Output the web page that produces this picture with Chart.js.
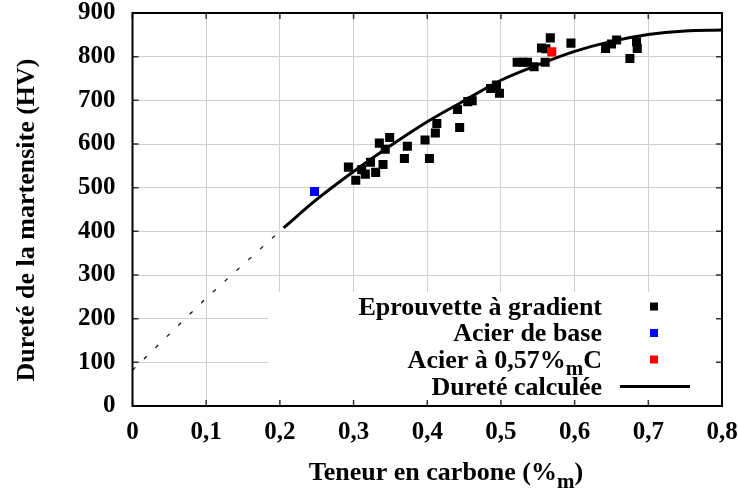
<!DOCTYPE html>
<html>
<head>
<meta charset="utf-8">
<script src="https://cdn.jsdelivr.net/npm/chart.js@4/dist/chart.umd.min.js"></script>
<style>
  html, body { margin: 0; padding: 0; background: #fff; }
  #wrap { width: 738px; height: 491px; }
</style>
</head>
<body>
<div id="wrap"><canvas id="chart" width="738" height="491"></canvas></div>
<script>
// --- data ---
const gradC  = [0.293,0.303,0.311,0.316,0.323,0.330,0.340,0.335,0.349,0.343,0.373,0.369,0.397,0.403,0.411,0.413,
                0.444,0.441,0.455,0.461,0.486,0.494,0.498,0.522,0.530,0.536,0.545,0.560,0.555,0.561,0.567,0.595,
                0.642,0.650,0.657,0.675,0.684,0.685];
const gradHV = [547,517,541,531,558,535,553,602,615,588,595,567,609,567,625,647,
                638,679,697,699,727,735,716,787,787,787,777,787,820,818,843,831,
                819,829,838,796,834,819];
const baseC  = [0.247];
const baseHV = [491];
const c57C   = [0.569];
const c57HV  = [811];
const fitC   = [0.205,0.25,0.3,0.35,0.4,0.45,0.5,0.55,0.6,0.65,0.7,0.75,0.8];
const fitHV  = [408,473,537,596,651,699,746,781,812,835,851,859,861];
const extC   = [0,0.1,0.205];
const extHV  = [82,247,408];

const xTickLabels = ['0','0,1','0,2','0,3','0,4','0,5','0,6','0,7','0,8'];
const yTickLabels = ['0','100','200','300','400','500','600','700','800','900'];
const seriesNames = ['Eprouvette à gradient','Acier de base','Acier à 0,57%_mC','Dureté calculée'];
const xTitle = 'Teneur en carbone (%_m)';
const yTitle = 'Dureté de la martensite (HV)';

const pts = (xs, ys) => xs.map((x,i)=>({x, y: ys[i]}));
const FONT = '"Liberation Serif", "Times New Roman", serif';

// text with "_x" meaning subscript x
function richParts(s){
  const out = [];
  let i = 0, buf = '';
  while(i < s.length){
    if(s[i] === '_'){ if(buf) out.push({t:buf}); buf=''; out.push({t:s[i+1], sub:true}); i+=2; }
    else { buf += s[i]; i++; }
  }
  if(buf) out.push({t:buf});
  return out;
}
function drawRich(ctx, s, x, y, size, align){
  const parts = richParts(s);
  const fmain = 'bold ' + size + 'px ' + FONT;
  const fsub = 'bold ' + Math.round(size*0.8) + 'px ' + FONT;
  let w = 0;
  parts.forEach(p=>{ ctx.font = p.sub ? fsub : fmain; p.w = ctx.measureText(p.t).width; w += p.w; });
  let cx = align === 'right' ? x - w : align === 'center' ? x - w/2 : x;
  ctx.textAlign = 'left';
  ctx.textBaseline = 'alphabetic';
  parts.forEach(p=>{
    ctx.font = p.sub ? fsub : fmain;
    ctx.fillText(p.t, cx, p.sub ? y + size*0.3 : y);
    cx += p.w;
  });
}

const decor = {
  id: 'decor',
  beforeDatasetsDraw(chart){
    const {ctx, chartArea: a} = chart;
    const xs = chart.scales.x, ys = chart.scales.y;
    ctx.save();
    // legend box hides the grid
    ctx.fillStyle = '#fff';
    ctx.fillRect(268, 292, a.right - 268 - 1, a.bottom - 292 - 1);
    // inner tick marks
    ctx.strokeStyle = '#333';
    ctx.lineWidth = 1.5;
    ctx.beginPath();
    xs.ticks.forEach(t=>{
      const px = xs.getPixelForValue(t.value);
      ctx.moveTo(px, a.bottom); ctx.lineTo(px, a.bottom - 6);
      ctx.moveTo(px, a.top); ctx.lineTo(px, a.top + 6);
    });
    ys.ticks.forEach(t=>{
      const py = ys.getPixelForValue(t.value);
      ctx.moveTo(a.left, py); ctx.lineTo(a.left + 6, py);
      ctx.moveTo(a.right, py); ctx.lineTo(a.right - 6, py);
    });
    ctx.stroke();
    // frame
    ctx.strokeStyle = '#000';
    ctx.lineWidth = 2;
    ctx.strokeRect(a.left, a.top, a.right - a.left, a.bottom - a.top);
    ctx.restore();
  },
  afterDraw(chart){
    const {ctx, chartArea: a} = chart;
    ctx.save();
    ctx.fillStyle = '#000';
    // axis titles
    drawRich(ctx, xTitle, 446, 480, 26, 'center');
    ctx.translate(34, 220);
    ctx.rotate(-Math.PI/2);
    drawRich(ctx, yTitle, 0, 0, 26, 'center');
    ctx.restore();
    // legend
    ctx.save();
    const rowY = [306.5, 333, 359.5, 386.5];
    chart.data.datasets.forEach((ds, i)=>{
      if(ds.legendRow === undefined) return;
      const y = rowY[ds.legendRow];
      ctx.fillStyle = '#000';
      drawRich(ctx, ds.label, 602, y + 8, 26, 'right');
      if(ds.showLine){
        ctx.strokeStyle = ds.borderColor; ctx.lineWidth = 3;
        ctx.beginPath(); ctx.moveTo(620, y); ctx.lineTo(690, y); ctx.stroke();
      } else {
        ctx.fillStyle = ds.backgroundColor;
        ctx.fillRect(650, y - 4, 8, 8);
      }
    });
    ctx.restore();
  }
};

new Chart(document.getElementById('chart'), {
  type: 'scatter',
  data: {
    datasets: [
      { label: seriesNames[0], legendRow: 0, data: pts(gradC, gradHV), backgroundColor: '#000', borderColor: '#000',
        pointStyle: 'rect', pointRadius: 6.4, pointBorderWidth: 0, order: 2 },
      { label: seriesNames[1], legendRow: 1, data: pts(baseC, baseHV), backgroundColor: '#0000ff', borderColor: '#0000ff',
        pointStyle: 'rect', pointRadius: 6.4, pointBorderWidth: 0, order: 2 },
      { label: seriesNames[2], legendRow: 2, data: pts(c57C, c57HV), backgroundColor: '#ff0000', borderColor: '#ff0000',
        pointStyle: 'rect', pointRadius: 6.4, pointBorderWidth: 0, order: 1 },
      { label: seriesNames[3], legendRow: 3, data: pts(fitC, fitHV), showLine: true, borderColor: '#000', backgroundColor: '#000',
        borderWidth: 3, pointRadius: 0, tension: 0.4, cubicInterpolationMode: 'monotone', order: 0 },
      { label: 'extrapolation', data: pts(extC, extHV), showLine: true, borderColor: '#000',
        borderWidth: 1.2, borderDash: [4, 12], pointRadius: 0, tension: 0, order: 0 }
    ]
  },
  options: {
    responsive: false,
    animation: false,
    devicePixelRatio: 1,
    layout: { padding: { left: 0, right: 16, top: 13, bottom: 0 } },
    plugins: { legend: { display: false }, tooltip: { enabled: false } },
    scales: {
      x: {
        type: 'linear', min: 0, max: 0.8,
        afterFit: s => { s.height = 85; s.paddingLeft = 0; s.paddingRight = 0; },
        ticks: { stepSize: 0.1, padding: 12, color: '#000', maxRotation: 0,
          font: { family: FONT, size: 25, weight: 'bold' },
          callback: (v, i) => xTickLabels[i] },
        grid: { color: '#cfcfcf', lineWidth: 1, drawTicks: false },
        border: { display: false }
      },
      y: {
        min: 0, max: 900,
        afterFit: s => { s.width = 132.5; s.paddingTop = 0; s.paddingBottom = 0; },
        ticks: { stepSize: 100, padding: 17, color: '#000',
          font: { family: FONT, size: 25, weight: 'bold' },
          callback: (v, i) => yTickLabels[i] },
        grid: { color: '#cfcfcf', lineWidth: 1, drawTicks: false },
        border: { display: false }
      }
    }
  },
  plugins: [decor]
});
</script>
</body>
</html>
